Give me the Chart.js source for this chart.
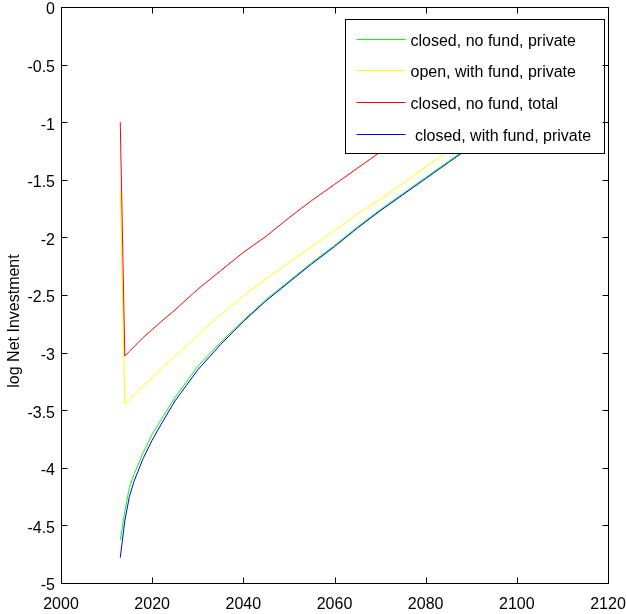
<!DOCTYPE html>
<html>
<head>
<meta charset="utf-8">
<script src="https://cdn.jsdelivr.net/npm/chart.js@4.4.1/dist/chart.umd.min.js"></script>
<style>
    html, body { margin: 0; padding: 0; background: #fff; }
    #wrap { width: 626px; height: 614px; position: relative; }
</style>
</head>
<body>
<div id="wrap"><canvas id="chart"></canvas></div>
<script>
const years = [2013, 2014, 2015, 2016, 2018, 2020, 2022, 2025, 2030, 2035, 2040, 2045, 2050, 2055, 2060, 2065, 2070, 2075, 2080, 2085, 2090, 2095, 2100];

const closedNoFundPrivate = [-4.63, -4.38, -4.17, -4.06, -3.87, -3.71, -3.58, -3.39, -3.12, -2.91, -2.72, -2.54, -2.38, -2.22, -2.07, -1.91, -1.76, -1.62, -1.48, -1.34, -1.20, -1.07, -0.94];
const openWithFundPrivate = [-1.60, -3.45, -3.41, -3.37, -3.29, -3.22, -3.14, -3.03, -2.85, -2.67, -2.51, -2.36, -2.22, -2.08, -1.94, -1.80, -1.67, -1.53, -1.39, -1.25, -1.12, -0.99, -0.86];
const closedNoFundTotal = [-1.00, -3.03, -2.99, -2.95, -2.87, -2.80, -2.73, -2.63, -2.45, -2.29, -2.13, -1.99, -1.83, -1.68, -1.54, -1.40, -1.26, -1.13, -1.00, -0.87, -0.75, -0.63, -0.51];
const closedWithFundPrivate = [-4.78, -4.46, -4.25, -4.12, -3.92, -3.76, -3.62, -3.42, -3.15, -2.93, -2.73, -2.55, -2.39, -2.23, -2.08, -1.92, -1.77, -1.63, -1.49, -1.35, -1.21, -1.08, -0.95];

const seriesLabels = ['closed, no fund, private', 'open, with fund, private', 'closed, no fund, total', ' closed, with fund, private'];
const seriesColors = ['#00ff00', '#ffff00', '#ff0000', '#0000ff'];
const seriesValues = [closedNoFundPrivate, openWithFundPrivate, closedNoFundTotal, closedWithFundPrivate];
const drawOrder = [3, 2, 1, 0];

const xTickValues = [2000, 2020, 2040, 2060, 2080, 2100, 2120];
const yTickValues = [0, -0.5, -1, -1.5, -2, -2.5, -3, -3.5, -4, -4.5, -5];
const yAxisTitle = 'log Net Investment';

const FONT = "'Liberation Sans', Arial, sans-serif";

Chart.defaults.font.family = FONT;
Chart.defaults.font.size = 16;
Chart.defaults.color = '#000';

// box, inward ticks, y label and the opaque legend, drawn MATLAB-like
const matlabFrame = {
    id: 'matlabFrame',
    afterDraw(chart) {
        const { ctx, chartArea: a, scales: { x, y } } = chart;
        const L = Math.round(a.left) + 0.5;
        const R = Math.round(a.right) + 0.5;
        const T = Math.round(a.top) + 0.5;
        const B = Math.round(a.bottom) + 0.5;
        const tick = 6;

        ctx.save();

        // legend
        const lx = R - 263;
        const ly = T + 12;
        const lw = 259;
        const lh = 134;
        ctx.fillStyle = '#fff';
        ctx.fillRect(lx, ly, lw, lh);
        ctx.strokeStyle = '#000';
        ctx.lineWidth = 1;
        ctx.strokeRect(lx, ly, lw, lh);

        ctx.font = `16px ${FONT}`;
        ctx.textAlign = 'left';
        ctx.textBaseline = 'middle';
        seriesLabels.forEach((label, i) => {
            const rowY = Math.round(ly + 19 + i * 31.7) + 0.5;
            ctx.strokeStyle = seriesColors[i];
            ctx.beginPath();
            ctx.moveTo(lx + 11, rowY);
            ctx.lineTo(lx + 60, rowY);
            ctx.stroke();
            ctx.fillStyle = '#000';
            ctx.fillText(label, lx + 65, rowY + 2);
        });

        // frame and ticks
        ctx.strokeStyle = '#000';
        ctx.lineWidth = 1;
        ctx.strokeRect(L, T, R - L, B - T);
        ctx.beginPath();
        x.ticks.forEach((t) => {
            const px = Math.round(x.getPixelForValue(t.value)) + 0.5;
            ctx.moveTo(px, B); ctx.lineTo(px, B - tick);
            ctx.moveTo(px, T); ctx.lineTo(px, T + tick);
        });
        y.ticks.forEach((t) => {
            const py = Math.round(y.getPixelForValue(t.value)) + 0.5;
            ctx.moveTo(L, py); ctx.lineTo(L + tick, py);
            ctx.moveTo(R, py); ctx.lineTo(R - tick, py);
        });
        ctx.stroke();

        // y axis title
        ctx.translate(15, (a.top + a.bottom) / 2 + 26);
        ctx.rotate(-Math.PI / 2);
        ctx.textAlign = 'center';
        ctx.textBaseline = 'middle';
        ctx.fillStyle = '#000';
        ctx.fillText(yAxisTitle, 0, 0);

        ctx.restore();
    },
};

new Chart(document.getElementById('chart'), {
    type: 'line',
    data: {
        datasets: seriesValues.map((values, i) => ({
            label: seriesLabels[i],
            data: years.map((year, k) => ({ x: year, y: values[k] })),
            borderColor: seriesColors[i],
            borderWidth: 1,
            pointRadius: 0,
            tension: 0,
            fill: false,
            order: drawOrder[i],
        })),
    },
    options: {
        responsive: true,
        maintainAspectRatio: false,
        animation: false,
        layout: { padding: { top: 7, right: 18, left: 0, bottom: 0 } },
        plugins: { legend: { display: false }, tooltip: { enabled: false } },
        scales: {
            x: {
                type: 'linear',
                min: 2000,
                max: 2120,
                grid: { display: false, drawTicks: false },
                border: { display: false },
                ticks: { padding: 12, maxRotation: 0, autoSkip: false, callback: (v) => String(v) },
                afterBuildTicks: (scale) => { scale.ticks = xTickValues.map((v) => ({ value: v })); },
                afterFit: (scale) => { scale.height = 31; scale.paddingLeft = 0; scale.paddingRight = 0; },
            },
            y: {
                type: 'linear',
                min: -5,
                max: 0,
                grid: { display: false, drawTicks: false },
                border: { display: false },
                ticks: { padding: 6, labelOffset: 3, autoSkip: false, callback: (v) => String(v) },
                afterBuildTicks: (scale) => { scale.ticks = yTickValues.map((v) => ({ value: v })); },
                afterFit: (scale) => { scale.width = 61; scale.paddingTop = 0; scale.paddingBottom = 0; },
            },
        },
    },
    plugins: [matlabFrame],
});
</script>
</body>
</html>
